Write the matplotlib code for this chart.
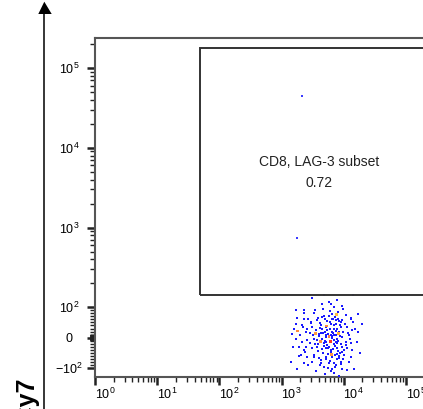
import matplotlib.pyplot as plt
from matplotlib.patches import Rectangle, Polygon
from matplotlib.lines import Line2D
from matplotlib.transforms import ScaledTranslation

plt.rcParams['font.family'] = ['Liberation Sans', 'DejaVu Sans']
plt.rcParams['mathtext.fontset'] = 'custom'
plt.rcParams['mathtext.rm'] = 'Liberation Sans'
plt.rcParams['mathtext.it'] = 'Liberation Sans:italic'
plt.rcParams['mathtext.bf'] = 'Liberation Sans:bold'

# events (x = CD8 channel, y = LAG-3 channel)
cloud_x = [4780, 14200, 3110, 7850, 6120, 9220, 1680, 2280, 3310, 7850, 16900, 4510,
           6520, 1790, 2280, 3750, 5430, 7380, 9450, 12900, 19800, 1680, 2150, 2930,
           3110, 4240, 5090, 6120, 6920, 8900, 11400, 13700, 1490, 2430, 2850, 4240,
           5090, 6520, 7380, 9450, 12100, 1680, 2150, 2590, 3310, 4780, 6920, 7850,
           10700, 12900, 1900, 2280, 3110, 3750, 5090, 6120, 7850, 9450, 11400, 2020,
           2590, 3310, 3980, 5090, 6520, 8330, 10000, 12900, 2280, 3110, 4240, 5770,
           7380, 8900, 4780, 6520, 1790, 9450, 11400, 14600, 6920, 8330,
           3600, 4000, 4400, 4900, 5300, 5600, 6000, 6400, 6800, 7200, 7600, 8000,
           8600, 9000, 9800, 10200, 3400, 3800, 4200, 4600, 5000, 5500, 5900, 6300,
           6700, 7100, 7500, 7900, 8400, 8800, 3200, 3700, 4100, 4500, 4950, 5400,
           5800, 6200, 6600, 7000, 7400, 7800, 8200, 8700, 9300, 2900, 2600, 2400,
           3000, 3300, 3900, 4300, 4800, 5200, 5700, 6100, 6500, 6900, 7300, 7700,
           8100, 8500, 9100, 9600, 10500, 11000, 11800, 12500, 13500, 15000, 16500,
           2000, 2200, 2500, 2700, 1900, 1600, 1500, 3500, 4700, 6000, 7000, 8000,
           4100, 5500, 7200, 9000, 3600, 5000, 6300, 4400, 5800, 9800, 11000, 12000,
           13000, 14000, 2700, 2300, 18000, 17000, 1400, 5100, 5200, 5450, 5650, 5950,
           6250, 6550, 4850, 4650, 4450, 6850, 7050, 7650, 8450, 3950, 3850, 3040]
cloud_y = [141, 141, 130, 122, 109, 104, 90, 81, 81, 74, 79, 68,
           63, 66, 60, 57, 55, 57, 57, 63, 46, 46, 41, 48,
           35, 41, 35, 44, 30, 35, 35, 25, 11, 19, 14, 16,
           8, 19, 8, 3, 8, -3, -14, -8, -3, -19, -8, -19,
           -14, -19, -30, -41, -35, -30, -35, -41, -35, -47, -35, -57,
           -63, -57, -68, -63, -63, -68, -57, -63, -85, -79, -85, -85,
           -90, -79, -96, -102, -104, -104, -107, -104, -117, -128,
           25, 5, -5, 20, -25, 12, 30, -2, 15, -28, 22, -10,
           40, -22, 18, -40, -20, -45, 48, -50, 60, -55, 52, -48,
           62, -58, 45, -72, 55, -52, 8, -8, 32, 28, -10, 38,
           -32, 10, -38, 42, -15, 28, -45, 5, -30, -18, 28, -48,
           52, -65, 65, -75, 72, -70, 70, -78, 78, -85, 68, -55,
           60, -62, 52, -70, 45, -25, 15, -5, -40, 30, -15,
           10, 35, -30, 60, -60, 30, -30, 90, 95, 88, 100, 85,
           -92, -100, -96, -88, -110, -118, -110, 110, 118, 95, 75, -80,
           65, 50, -90, 90, -50, 20, -80, 2, -15, 25, -35, -12,
           45, 5, -28, 15, -38, -20, 8, -3, 20, 12, -22, 130]

# a few high-density events drawn warm
warm_x = [1790, 3530, 5770, 8330, 4240, 6120, 7600, 5290, 6400]
warm_y = [22, 14, 3, 14, -14, -14, 77, 38, -55]
warm_c = ['#ff8a3c', '#ff9a40', '#ff8040', '#ffb030', '#ff9040', '#ff3020',
          '#ffc040', '#ff8a3c', '#ff9a40']

# two events inside the gate
gate_x = [2130, 1780]
gate_y = [44000, 750]

gate_name = 'CD8, LAG-3 subset'
gate_pct = '0.72'

y_ticks = [-100, 0, 100, 1e3, 1e4, 1e5]
y_labels = ['$-10^{2}$', '0', '$10^{2}$', '$10^{3}$', '$10^{4}$', '$10^{5}$']
x_ticks = [1, 10, 100, 1e3, 1e4, 1e5]
x_labels = ['$10^{0}$', '$10^{1}$', '$10^{2}$', '$10^{3}$', '$10^{4}$', '$10^{5}$']

W, H = 423, 409
fig = plt.figure(figsize=(W / 100, H / 100), dpi=100)
ax = fig.add_axes([95 / W, 32 / H, 337 / W, 339.3 / H])
ax.set_xscale('log')
ax.set_yscale('symlog', linthresh=100, linscale=0.342)
ax.set_xlim(1, 262143)
ax.set_ylim(-130, 240000)

for s in ax.spines.values():
    s.set_color('#555555')
    s.set_linewidth(1.5)

ax.scatter(cloud_x, cloud_y, s=4, marker='s', c='#1a1aff', linewidths=0, zorder=3)
ax.scatter(warm_x, warm_y, s=4, marker='s', c=warm_c, linewidths=0, zorder=4)
ax.scatter(gate_x, gate_y, s=4, marker='s', c='#3a3aff', linewidths=0, zorder=3)

# gate
ax.add_patch(Rectangle((48, 143), 1e6, 1.8e5 - 143, fill=False,
                       edgecolor='#333333', linewidth=1.4, zorder=5))
ax.text(4000, 6700, gate_name, ha='center', va='center', fontsize=10, color='#222222')
ax.text(4000, 3650, gate_pct, ha='center', va='center', fontsize=10, color='#222222')

# ticks
ax.set_yticks(y_ticks)
ax.set_yticklabels(y_labels)
ymin = [k * 10 ** e for e in (0, 1) for k in range(1, 10)]
ymin = ymin + [-v for v in ymin]
ymin += [k * 10 ** e for e in (2, 3, 4) for k in range(2, 10)] + [2e5]
ax.set_yticks(ymin, minor=True)
ax.set_xticks(x_ticks)
ax.set_xticklabels(x_labels)
ax.set_xticks([k * 10 ** e for e in range(0, 6) for k in range(2, 10) if k * 10 ** e < 262143],
              minor=True)
ax.tick_params(which='major', length=6, width=1.8, color='#222222', labelsize=9)
ax.tick_params(which='minor', length=3.5, width=1.0, color='#222222')
ax.tick_params(axis='y', which='major', pad=12.7)
ax.tick_params(axis='x', which='major', pad=1)
for t in ax.get_yticklabels():
    t.set_ha('center')
shift = ScaledTranslation(0.10, 0, fig.dpi_scale_trans)
for t in ax.get_xticklabels():
    t.set_transform(t.get_transform() + shift)

# axis arrow on the left
fig.add_artist(Line2D([44 / W, 44 / W], [0, (H - 12) / H], transform=fig.transFigure,
                      color='black', linewidth=1.1))
fig.add_artist(Polygon([(38.3 / W, (H - 14) / H), (51.7 / W, (H - 14) / H),
                        (44.3 / W, (H - 1.7) / H)], closed=True, transform=fig.transFigure,
                       facecolor='black', edgecolor='none'))
fig.text(33 / W, (H - 377) / H, 'PE-Cy7', rotation=90, rotation_mode='anchor',
         ha='right', va='baseline', fontsize=18, fontweight='bold')

fig.savefig('out.png', dpi=100)
